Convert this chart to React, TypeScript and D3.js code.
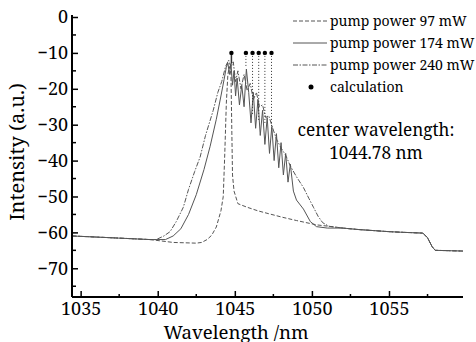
import React, { useRef, useEffect } from "react";
import * as d3 from "d3";

// wavelength (nm) / intensity pairs
const sharedLeft: [number, number][] = [
  [1034.44, -61.0],
  [1036.0, -61.3],
  [1038.0, -61.7],
  [1039.5, -62.0],
];

const sharedTail: [number, number][] = [
  [1052.0, -58.8],
  [1053.0, -59.2],
  [1054.0, -59.5],
  [1055.0, -59.8],
  [1056.0, -60.0],
  [1057.2, -60.2],
  [1057.5, -61.5],
  [1057.8, -64.0],
  [1058.0, -65.0],
  [1059.8, -65.2],
];

const pump97: [number, number][] = [
  [1041.0, -62.8],
  [1042.5, -63.0],
  [1042.85, -62.8],
  [1043.2, -62.0],
  [1043.5, -60.8],
  [1043.8, -58.5],
  [1044.1, -54.0],
  [1044.25, -50.0],
  [1044.35, -38.0],
  [1044.45, -24.0],
  [1044.55, -16.0],
  [1044.65, -13.8],
  [1044.75, -16.0],
  [1044.8, -30.0],
  [1044.85, -44.0],
  [1044.95, -48.5],
  [1045.2, -52.0],
  [1045.8, -53.0],
  [1046.5, -54.0],
  [1047.2, -54.8],
  [1048.1, -55.8],
  [1049.0, -56.7],
  [1050.3, -57.9],
  [1051.5, -58.5],
];

const pump174: [number, number][] = [
  [1040.5, -62.0],
  [1041.0, -61.0],
  [1041.5, -59.0],
  [1042.0, -55.0],
  [1042.5, -49.5],
  [1043.0, -42.5],
  [1043.4, -36.0],
  [1043.8, -28.5],
  [1044.1, -22.0],
  [1044.3, -17.5],
  [1044.45, -14.0],
  [1044.55, -12.8],
  [1044.65, -16.0],
  [1044.75, -13.0],
  [1044.85, -19.0],
  [1044.95, -15.0],
  [1045.05, -22.0],
  [1045.15, -17.0],
  [1045.3, -24.5],
  [1045.45, -19.0],
  [1045.6, -25.0],
  [1045.75, -14.5],
  [1045.9, -21.0],
  [1046.05, -29.5],
  [1046.2, -21.0],
  [1046.35, -31.0],
  [1046.5, -23.0],
  [1046.65, -33.0],
  [1046.8, -26.0],
  [1046.95, -35.5],
  [1047.1, -28.0],
  [1047.25, -38.0],
  [1047.4, -30.5],
  [1047.55, -40.0],
  [1047.7, -32.5],
  [1047.85, -42.0],
  [1048.0, -35.0],
  [1048.15, -44.0],
  [1048.3, -38.0],
  [1048.45, -46.0],
  [1048.6, -41.0],
  [1048.8, -48.5],
  [1049.0, -51.0],
  [1049.45, -53.5],
  [1049.9, -57.0],
  [1050.3, -58.4],
  [1051.0, -58.8],
];

const pump240: [number, number][] = [
  [1039.9, -62.0],
  [1040.4, -61.0],
  [1040.8, -59.8],
  [1041.2, -57.0],
  [1041.66, -53.0],
  [1042.0, -48.0],
  [1042.4, -43.0],
  [1042.75, -39.0],
  [1043.1, -33.0],
  [1043.6, -26.0],
  [1043.9, -21.0],
  [1044.15, -18.0],
  [1044.4, -13.8],
  [1044.6, -12.0],
  [1044.75, -14.0],
  [1044.9, -12.5],
  [1045.05, -18.0],
  [1045.2, -15.0],
  [1045.4, -20.0],
  [1045.6, -16.0],
  [1045.8, -20.5],
  [1046.0, -18.5],
  [1046.2, -23.0],
  [1046.4, -21.0],
  [1046.6, -25.0],
  [1046.8, -24.5],
  [1047.0, -28.0],
  [1047.2, -27.5],
  [1047.5, -31.5],
  [1047.7, -34.0],
  [1048.0, -36.5],
  [1048.3, -38.5],
  [1048.6, -41.5],
  [1049.0, -44.5],
  [1049.45, -47.5],
  [1049.8, -50.5],
  [1050.1, -53.0],
  [1050.4, -55.5],
  [1050.7, -57.3],
  [1051.1, -58.3],
  [1051.6, -58.6],
];

// calculated fringe positions and where their dotted guides end
const calcWavelengths = [1044.78, 1045.72, 1046.15, 1046.55, 1046.95, 1047.38];
const calcIntensity = -10;
const calcGuideEnd = [-13, -14, -27, -29, -30, -31];

const xTicks = [1035, 1040, 1045, 1050, 1055];
const yTicks = [0, -10, -20, -30, -40, -50, -60, -70];
const legendLabels = [
  "pump power 97 mW",
  "pump power 174 mW",
  "pump power 240 mW",
  "calculation",
];

const W = 476;
const H = 342;
const FONT = "Noto Serif";

export default function App() {
  const svgRef = useRef<SVGSVGElement>(null);

  useEffect(() => {
    const svg = d3.select(svgRef.current);
    svg.selectAll("*").remove();

    const x = d3.scaleLinear().domain([1034.44, 1059.8]).range([72, 463]);
    const y = d3.scaleLinear().domain([-78, 0]).range([297, 17]);

    svg.append("rect").attr("width", W).attr("height", H).attr("fill", "#fff");

    const line = d3
      .line<[number, number]>()
      .x((d) => x(d[0]))
      .y((d) => y(d[1]));

    const series = [
      { pts: [...sharedLeft, ...pump97, ...sharedTail], dash: "4,2" },
      { pts: [...sharedLeft, ...pump174, ...sharedTail], dash: null },
      { pts: [...sharedLeft, ...pump240, ...sharedTail], dash: "5,1.5,1.5,1.5" },
    ];

    series.forEach((s) => {
      svg
        .append("path")
        .attr("d", line(s.pts))
        .attr("fill", "none")
        .attr("stroke", "#555")
        .attr("stroke-width", 1)
        .attr("stroke-dasharray", s.dash);
    });

    // calculation markers with dotted guides
    calcWavelengths.forEach((w, i) => {
      svg
        .append("line")
        .attr("x1", x(w))
        .attr("x2", x(w))
        .attr("y1", y(calcIntensity))
        .attr("y2", y(calcGuideEnd[i]))
        .attr("stroke", "#333")
        .attr("stroke-width", i === 0 ? 1.5 : 1)
        .attr("stroke-dasharray", i === 0 ? null : "1,2");
      svg
        .append("circle")
        .attr("cx", x(w))
        .attr("cy", y(calcIntensity))
        .attr("r", 2.2)
        .attr("fill", "#000");
    });

    // axes, ticks pointing inward
    const xAxis = svg.append("g").attr("transform", `translate(0,${y(-78)})`);
    xAxis
      .call(
        d3
          .axisBottom(x)
          .tickValues(xTicks)
          .tickSize(-6)
          .tickPadding(5)
          .tickFormat(d3.format("d"))
      )
      .call((g) => g.select(".domain").attr("d", `M${x.range()[0]},0H${x.range()[1]}`));
    d3.range(1037.5, 1059, 5).forEach((v) => {
      xAxis
        .append("line")
        .attr("x1", x(v))
        .attr("x2", x(v))
        .attr("y1", 0)
        .attr("y2", -3)
        .attr("stroke", "#000")
        .attr("stroke-width", 1.5);
    });

    const yAxis = svg.append("g").attr("transform", `translate(${x(1034.44)},0)`);
    yAxis
      .call(
        d3
          .axisLeft(y)
          .tickValues(yTicks)
          .tickSize(-6)
          .tickPadding(4)
          .tickFormat((d) => String(d).replace("-", "\u2212"))
      )
      .call((g) => g.select(".domain").attr("d", `M0,${y.range()[0]}V${y.range()[1] - 2}`));
    d3.range(-75, 0, 10).forEach((v) => {
      yAxis
        .append("line")
        .attr("x1", 0)
        .attr("x2", 4)
        .attr("y1", y(v))
        .attr("y2", y(v))
        .attr("stroke", "#000")
        .attr("stroke-width", 1.5);
    });

    [xAxis, yAxis].forEach((g) => {
      g.attr("font-family", null).attr("font-size", null);
      g.select(".domain").attr("stroke", "#000").attr("stroke-width", 2);
      g.selectAll(".tick line").attr("stroke", "#000").attr("stroke-width", 1.5);
      g.selectAll(".tick text")
        .style("font-family", FONT)
        .style("font-size", "18px")
        .attr("fill", "#000");
    });

    svg
      .append("text")
      .attr("x", 236)
      .attr("y", 338.5)
      .attr("text-anchor", "middle")
      .style("font-family", FONT)
      .style("font-size", "18.6px")
      .text("Wavelength /nm");

    svg
      .append("text")
      .attr("transform", "translate(24,152) rotate(-90)")
      .attr("text-anchor", "middle")
      .style("font-family", FONT)
      .style("font-size", "20px")
      .text("Intensity (a.u.)");

    // legend
    const legendDash = ["4,2", null, "5,1.5,1.5,1.5"];
    legendLabels.forEach((label, i) => {
      const ly = 21 + i * 22;
      if (i < 3) {
        svg
          .append("line")
          .attr("x1", 293)
          .attr("x2", 327)
          .attr("y1", ly)
          .attr("y2", ly)
          .attr("stroke", "#555")
          .attr("stroke-width", 1)
          .attr("stroke-dasharray", legendDash[i]);
      } else {
        svg.append("circle").attr("cx", 311).attr("cy", ly).attr("r", 2.5).attr("fill", "#000");
      }
      svg
        .append("text")
        .attr("x", 330)
        .attr("y", ly + 5)
        .style("font-family", FONT)
        .style("font-size", "14px")
        .text(label);
    });

    svg
      .append("text")
      .attr("x", 376)
      .attr("y", 136)
      .attr("text-anchor", "middle")
      .style("font-family", FONT)
      .style("font-size", "17.2px")
      .text("center wavelength:");
    svg
      .append("text")
      .attr("x", 376)
      .attr("y", 159)
      .attr("text-anchor", "middle")
      .style("font-family", FONT)
      .style("font-size", "17.2px")
      .text("1044.78 nm");
  }, []);

  return (
    <div style={{ position: "absolute", left: 0, top: 0 }}>
      <svg ref={svgRef} width={W} height={H} style={{ display: "block" }} />
    </div>
  );
}
